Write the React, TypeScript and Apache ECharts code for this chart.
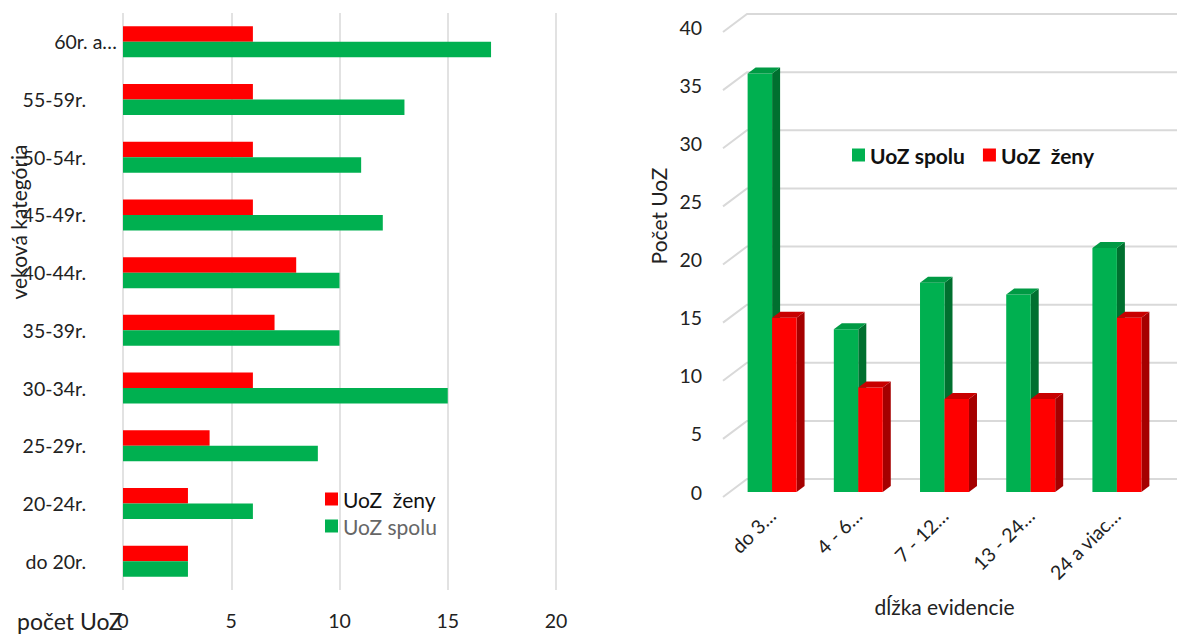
import React, { useEffect, useRef } from 'react';
import * as echarts from 'echarts';

// Left chart: age categories (bottom to top)
const ageCats = ['do 20r.', '20-24r.', '25-29r.', '30-34r.', '35-39r.', '40-44r.', '45-49r.', '50-54r.', '55-59r.', '60r. a…'];
const ageZeny = [3, 3, 4, 6, 7, 8, 6, 6, 6, 6];
const ageSpolu = [3, 6, 9, 15, 10, 10, 12, 11, 13, 17];

// Right chart: length of registration
const durCats = ['do 3…', '4 - 6…', '7 - 12…', '13 - 24…', '24 a viac…'];
const durSpolu = [36, 14, 18, 17, 21];
const durZeny = [15, 9, 8, 8, 15];
const durTicks = [0, 5, 10, 15, 20, 25, 30, 35, 40];

const NAME_Z = 'UoZ  ženy';
const NAME_S = 'UoZ spolu';
const FONT = 'Lato, "Open Sans", sans-serif';
const TXT = '#222222';
const GRID = '#D9D9D9';
const TICK_FS = 19.5;

const make3D = (front: string, side: string, top: string, shift: number) => (params: any, api: any) => {
  const i = api.value(0);
  const v = api.value(1);
  const p = api.coord([i, v]);
  const b = api.coord([i, 0]);
  const band = api.size([1, 0])[0];
  const w = band * 0.284;
  const x0 = p[0] + shift * w;
  const dx = 8;
  const dy = 6;
  const yT = p[1];
  const yB = b[1];
  return {
    type: 'group',
    children: [
      { type: 'polygon', shape: { points: [[x0 + w, yT], [x0 + w + dx, yT - dy], [x0 + w + dx, yB - dy], [x0 + w, yB]] }, style: { fill: side } },
      { type: 'rect', shape: { x: x0, y: yT, width: w, height: yB - yT }, style: { fill: front } },
      { type: 'polygon', shape: { points: [[x0, yT], [x0 + dx, yT - dy], [x0 + w + dx, yT - dy], [x0 + w, yT]] }, style: { fill: top } },
    ],
  };
};

const wallItem = (params: any, api: any) => {
  const v = api.value(1);
  const cs = params.coordSys;
  const y = api.coord([0, v])[1];
  return {
    type: 'polyline',
    silent: true,
    shape: { points: [[cs.x - 6, y + 5], [cs.x + 18, y - 13], [cs.x + cs.width + 18, y - 13]] },
    style: { stroke: GRID, lineWidth: 2, fill: null },
  };
};

export default function App() {
  const ref = useRef<HTMLDivElement>(null);
  useEffect(() => {
    if (!ref.current) return;
    const chart = echarts.init(ref.current, null, { renderer: 'svg' });
    const option: any = {
      animation: false,
      textStyle: { fontFamily: FONT },
      grid: [
        { left: 123, right: 621, top: 13, bottom: 44, containLabel: false },
        { left: 729, right: 17, top: 27, bottom: 142, containLabel: false },
      ],
      legend: [
        {
          orient: 'vertical',
          left: 320,
          top: 483,
          itemWidth: 13,
          itemHeight: 13,
          itemGap: 5,
          icon: 'rect',
          textStyle: { fontFamily: FONT, fontSize: 21, lineHeight: 22, color: TXT },
          data: [
            { name: NAME_Z, textStyle: { color: '#111111' } },
            { name: NAME_S, textStyle: { color: '#666666' } },
          ],
        },
        {
          orient: 'horizontal',
          left: 847,
          top: 139,
          itemWidth: 13,
          itemHeight: 13,
          itemGap: 18,
          icon: 'rect',
          textStyle: { fontFamily: FONT, fontSize: 21, fontWeight: 'bold', lineHeight: 22, color: '#111111' },
          data: [NAME_S, NAME_Z],
        },
      ],
      xAxis: [
        {
          gridIndex: 0,
          type: 'value',
          min: 0,
          max: 20,
          interval: 5,
          axisLine: { show: false },
          axisTick: { show: false },
          splitLine: { show: true, lineStyle: { color: GRID, width: 1.5 } },
          axisLabel: { margin: 20, fontSize: TICK_FS, color: TXT, fontFamily: FONT },
        },
        {
          gridIndex: 1,
          type: 'category',
          data: durCats,
          axisLine: { show: false },
          axisTick: { show: false },
          splitLine: { show: false },
          axisLabel: { rotate: 45, margin: 20, fontSize: TICK_FS, color: TXT, fontFamily: FONT, interval: 0 },
          name: 'dĺžka evidencie',
          nameLocation: 'middle',
          nameGap: 104,
          nameTextStyle: { fontSize: 21, color: TXT, fontFamily: FONT },
        },
      ],
      yAxis: [
        {
          gridIndex: 0,
          type: 'category',
          data: ageCats,
          axisLine: { show: false },
          axisTick: { show: false },
          splitLine: { show: false },
          axisLabel: {
            margin: 6,
            interval: 0,
            formatter: (v: string) => (v.indexOf('…') >= 0 ? `{t|${v}}` : `{n|${v}}`),
            rich: {
              n: { fontSize: TICK_FS, color: TXT, fontFamily: FONT, padding: [0, 31, 0, 0] },
              t: { fontSize: TICK_FS, color: TXT, fontFamily: FONT },
            },
          },
        },
        {
          gridIndex: 1,
          type: 'value',
          min: 0,
          max: 40,
          interval: 5,
          axisLine: { show: false },
          axisTick: { show: false },
          splitLine: { show: false },
          axisLabel: { margin: 27, fontSize: TICK_FS, color: TXT, fontFamily: FONT, padding: [10, 0, 0, 0] },
        },
      ],
      series: [
        {
          name: NAME_Z,
          type: 'bar',
          xAxisIndex: 0,
          yAxisIndex: 0,
          data: ageZeny,
          barWidth: 15.5,
          barGap: '0%',
          itemStyle: { color: '#FF0000' },
        },
        {
          name: NAME_S,
          type: 'bar',
          xAxisIndex: 0,
          yAxisIndex: 0,
          data: ageSpolu,
          barWidth: 15.5,
          barGap: '0%',
          itemStyle: { color: '#00B050' },
        },
        {
          name: 'walls',
          type: 'custom',
          xAxisIndex: 1,
          yAxisIndex: 1,
          silent: true,
          z: 1,
          renderItem: wallItem,
          encode: { x: 0, y: 1 },
          data: durTicks.map((v) => [0, v]),
        },
        {
          name: NAME_S,
          type: 'custom',
          xAxisIndex: 1,
          yAxisIndex: 1,
          z: 2,
          itemStyle: { color: '#00B050' },
          renderItem: make3D('#00B050', '#00702F', '#009A44', -1),
          encode: { x: 0, y: 1 },
          data: durSpolu.map((v, i) => [i, v]),
        },
        {
          name: NAME_Z,
          type: 'custom',
          xAxisIndex: 1,
          yAxisIndex: 1,
          z: 3,
          itemStyle: { color: '#FF0000' },
          renderItem: make3D('#FF0000', '#A50000', '#C80000', 0),
          encode: { x: 0, y: 1 },
          data: durZeny.map((v, i) => [i, v]),
        },
      ],
      graphic: [
        {
          type: 'text',
          x: 18,
          y: 222,
          rotation: Math.PI / 2,
          style: { text: 'veková kategória', fontSize: 21, fontFamily: FONT, fill: TXT, align: 'center', verticalAlign: 'middle' },
        },
        {
          type: 'text',
          x: 17,
          y: 621,
          style: { text: 'počet UoZ', fontSize: 23, fontFamily: FONT, fill: TXT, align: 'left', verticalAlign: 'middle' },
        },
        {
          type: 'text',
          x: 658,
          y: 216,
          rotation: Math.PI / 2,
          style: { text: 'Počet UoZ', fontSize: 21, fontFamily: FONT, fill: TXT, align: 'center', verticalAlign: 'middle' },
        },
      ],
    };
    chart.setOption(option);
    return () => chart.dispose();
  }, []);
  return <div ref={ref} style={{ position: 'absolute', left: 0, top: 0, width: 1177, height: 634 }} />;
}
